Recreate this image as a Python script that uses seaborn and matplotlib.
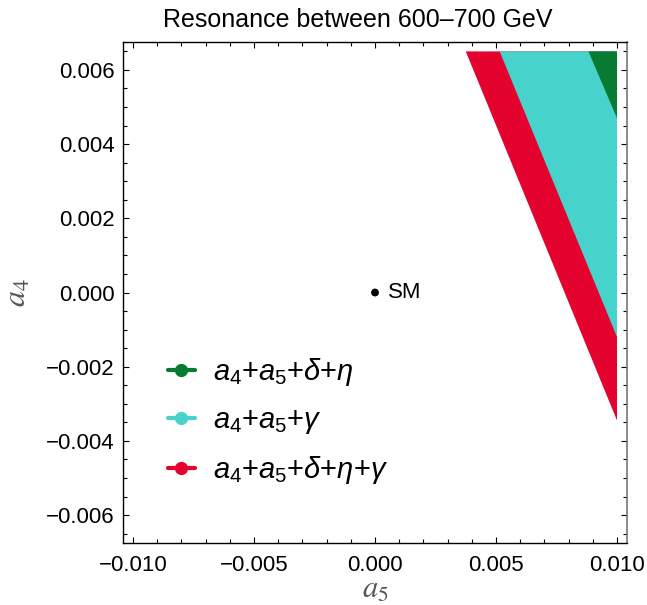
import numpy as np
import pandas as pd
import matplotlib
matplotlib.use('Agg')
import matplotlib.pyplot as plt
from matplotlib.lines import Line2D
from matplotlib.ticker import MultipleLocator, FuncFormatter
import seaborn as sns

# region boundaries (a5, a4)
red_a5 = [0.00375, 0.0100, 0.0100]
red_a4 = [0.0065, -0.00345, 0.0065]
cyan_a5 = [0.00515, 0.0100, 0.0100]
cyan_a4 = [0.0065, -0.0012, 0.0065]
green_a5 = [0.00882, 0.0100, 0.0100]
green_a4 = [0.0065, 0.0047, 0.0065]

labels = [r'$a_4$+$a_5$+$\delta$+$\eta$',
          r'$a_4$+$a_5$+$\gamma$',
          r'$a_4$+$a_5$+$\delta$+$\eta$+$\gamma$']
colors = ['#087a32', '#48d2cc', '#e4032f']

sm_point = pd.DataFrame({'a5': [0.0], 'a4': [0.0]})

sns.set_style('ticks')
plt.rcParams['font.family'] = ['Liberation Sans', 'DejaVu Sans']
plt.rcParams['text.color'] = 'black'
plt.rcParams['xtick.labelcolor'] = 'black'
plt.rcParams['ytick.labelcolor'] = 'black'
plt.rcParams['mathtext.fontset'] = 'custom'
plt.rcParams['mathtext.rm'] = 'Liberation Sans'
plt.rcParams['mathtext.it'] = 'Liberation Sans:italic'

fig = plt.figure(figsize=(6.47, 6.05), dpi=100)
ax = fig.add_axes([0.1906, 0.102, 0.778, 0.829])

ax.fill(red_a5, red_a4, color=colors[2], lw=0)
ax.fill(cyan_a5, cyan_a4, color=colors[1], lw=0)
ax.fill(green_a5, green_a4, color=colors[0], lw=0)

sns.scatterplot(data=sm_point, x='a5', y='a4', ax=ax, color='black', s=32,
                edgecolor='none', legend=False)
ax.text(0.00055, 0.0, 'SM', fontsize=16, va='center', ha='left')

ax.set_xlim(-0.0104, 0.0104)
ax.set_ylim(-0.00676, 0.00676)

fmt = FuncFormatter(lambda v, p: ('%.3f' % v).replace('-', '\u2212'))
ax.xaxis.set_major_locator(MultipleLocator(0.005))
ax.xaxis.set_minor_locator(MultipleLocator(0.001))
ax.yaxis.set_major_locator(MultipleLocator(0.002))
ax.yaxis.set_minor_locator(MultipleLocator(0.0005))
ax.xaxis.set_major_formatter(fmt)
ax.yaxis.set_major_formatter(fmt)

ax.tick_params(which='both', direction='in', top=True, right=True,
               labelsize=16, width=0.8, color='black')
ax.tick_params(axis='x', which='both', pad=8.5)
ax.tick_params(axis='y', which='both', pad=6.5)
ax.tick_params(which='major', length=4)
ax.tick_params(which='minor', length=3)

for s in ['left', 'bottom', 'top']:
    ax.spines[s].set_color('black')
    ax.spines[s].set_linewidth(1)
ax.spines['right'].set_color('#777777')
ax.spines['right'].set_linewidth(1.2)

ax.set_xlabel('$a_5$', math_fontfamily='stix', fontsize=22, color='#555555', va='center')
ax.set_ylabel('$a_4$', math_fontfamily='stix', fontsize=23, color='#555555', va='center')
ax.xaxis.set_label_coords(0.5, -0.093)
ax.yaxis.set_label_coords(-0.209, 0.5)

fig.text(357.5 / 647, 1 - 20 / 605, 'Resonance between 600\u2013700 GeV',
         fontsize=18, ha='center', va='center')

handles = [Line2D([0], [0], color=c, lw=3, marker='o', markersize=8.5)
           for c in colors]
ax.legend(handles, labels, loc='upper left', bbox_to_anchor=(0.088, 0.373),
          frameon=False, fontsize=21, handlelength=0.95, handletextpad=0.6,
          labelspacing=0.62, borderaxespad=0, borderpad=0)

fig.savefig('out.png', dpi=100)
